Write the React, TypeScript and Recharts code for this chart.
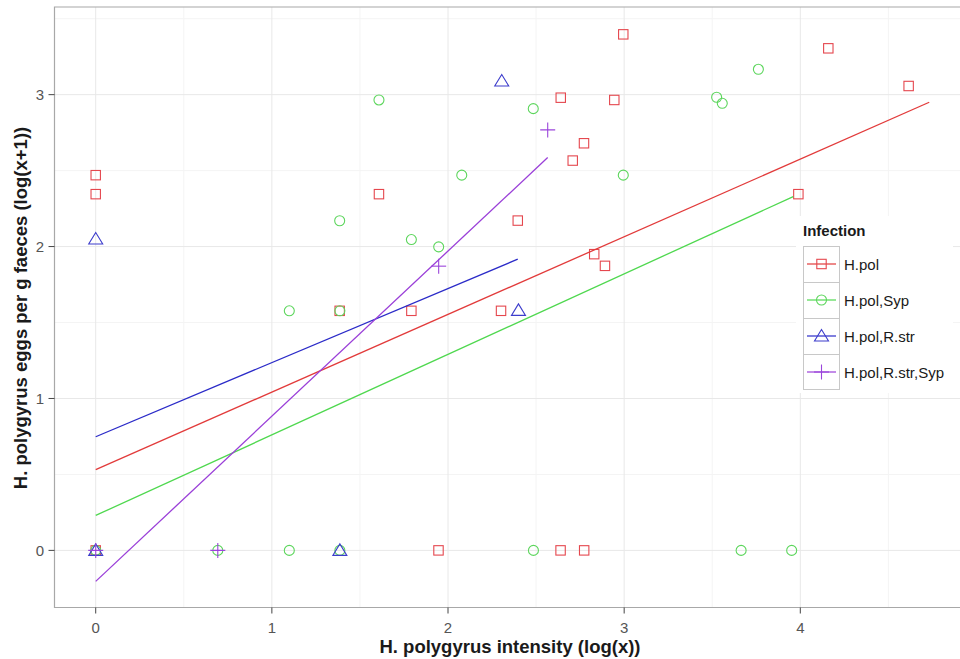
import {
  CartesianGrid,
  Label,
  Legend,
  ReferenceArea,
  Scatter,
  ScatterChart,
  XAxis,
  YAxis,
} from "recharts";

const FONT = "'Liberation Sans', Arial, Helvetica, sans-serif";

// axes
const X_DOMAIN = [-0.234, 4.935];
const Y_DOMAIN = [-0.376, 3.577];
const X_TICKS = [0, 1, 2, 3, 4];
const X_MINOR = [0.5, 1.5, 2.5, 3.5, 4.5];
const Y_TICKS = [0, 1, 2, 3];
const Y_MINOR = [0.5, 1.5, 2.5, 3.5];

// H.pol (squares)
const HPOL_X = [0, 0, 1.608, 1.385, 1.792, 2.995, 2.64, 2.944, 2.772, 2.708, 2.396, 4.159, 4.615, 3.989, 2.83, 2.891, 2.301, 0, 1.946, 2.639, 2.773];
const HPOL_Y = [2.47, 2.345, 2.345, 1.577, 1.577, 3.397, 2.98, 2.965, 2.68, 2.566, 2.171, 3.305, 3.057, 2.345, 1.95, 1.873, 1.577, 0, 0, 0, 0];

// H.pol,Syp (circles)
const HPOL_SYP_X = [1.608, 2.078, 1.385, 1.792, 1.947, 1.099, 1.386, 2.484, 2.995, 3.525, 3.557, 3.762, 0, 0.693, 1.099, 1.386, 2.485, 3.664, 3.951];
const HPOL_SYP_Y = [2.965, 2.47, 2.17, 2.046, 1.998, 1.577, 1.577, 2.908, 2.47, 2.983, 2.943, 3.167, 0, 0, 0, 0, 0, 0, 0];

// H.pol,R.str (triangles)
const HPOL_RSTR_X = [0, 2.305, 2.4, 0, 1.386];
const HPOL_RSTR_Y = [2.05, 3.09, 1.58, 0, 0];

// H.pol,R.str,Syp (plus)
const HPOL_RSTR_SYP_X = [1.947, 2.566, 0, 0.693];
const HPOL_RSTR_SYP_Y = [1.871, 2.768, 0, 0];

// fitted lines (start / end)
const FIT_HPOL_X = [0, 4.732];
const FIT_HPOL_Y = [0.531, 2.95];
const FIT_HPOL_SYP_X = [0, 3.96];
const FIT_HPOL_SYP_Y = [0.23, 2.329];
const FIT_HPOL_RSTR_X = [0, 2.396];
const FIT_HPOL_RSTR_Y = [0.748, 1.917];
const FIT_HPOL_RSTR_SYP_X = [0, 2.566];
const FIT_HPOL_RSTR_SYP_Y = [-0.204, 2.586];

const zip = (xs: number[], ys: number[]) => xs.map((x, i) => ({ x, y: ys[i] }));

type ShapeKind = "square" | "circle" | "triangle" | "plus";

function Marker({ kind, cx, cy, color }: { kind: ShapeKind; cx: number; cy: number; color: string }) {
  const common = { fill: "none", stroke: color, strokeWidth: 1.1 };
  if (kind === "square") return <rect x={cx - 4.7} y={cy - 4.7} width={9.4} height={9.4} {...common} />;
  if (kind === "circle") return <circle cx={cx} cy={cy} r={5} {...common} />;
  if (kind === "triangle")
    return <polygon points={`${cx},${cy - 6.5} ${cx - 7},${cy + 5} ${cx + 7},${cy + 5}`} {...common} />;
  return (
    <g {...common}>
      <line x1={cx - 7.5} x2={cx + 7.5} y1={cy} y2={cy} />
      <line x1={cx} x2={cx} y1={cy - 7.5} y2={cy + 7.5} />
    </g>
  );
}

const GROUPS = [
  { name: "H.pol", kind: "square" as ShapeKind, point: "#E5474E", line: "#E23B3B", data: zip(HPOL_X, HPOL_Y), fit: zip(FIT_HPOL_X, FIT_HPOL_Y) },
  { name: "H.pol,Syp", kind: "circle" as ShapeKind, point: "#5DD65D", line: "#4FD84F", data: zip(HPOL_SYP_X, HPOL_SYP_Y), fit: zip(FIT_HPOL_SYP_X, FIT_HPOL_SYP_Y) },
  { name: "H.pol,R.str", kind: "triangle" as ShapeKind, point: "#3D3DCC", line: "#2B2BC8", data: zip(HPOL_RSTR_X, HPOL_RSTR_Y), fit: zip(FIT_HPOL_RSTR_X, FIT_HPOL_RSTR_Y) },
  { name: "H.pol,R.str,Syp", kind: "plus" as ShapeKind, point: "#9B45DB", line: "#9A3FD8", data: zip(HPOL_RSTR_SYP_X, HPOL_RSTR_SYP_Y), fit: zip(FIT_HPOL_RSTR_SYP_X, FIT_HPOL_RSTR_SYP_Y) },
];

function InfectionLegend() {
  return (
    <div style={{ background: "#fff", width: 157, height: 177, paddingLeft: 7, boxSizing: "border-box", fontFamily: FONT, color: "#1a1a1a" }}>
      <div style={{ fontWeight: "bold", fontSize: 15, height: 30, lineHeight: "30px" }}>Infection</div>
      {GROUPS.map((g, i) => (
        <div key={g.name} style={{ display: "flex", alignItems: "center", height: 36 }}>
          <svg width={37} height={36} style={{ display: "block" }}>
            <line x1={0} x2={37} y1={0.5} y2={0.5} stroke="#c8c8c8" />
            <line x1={0.5} x2={0.5} y1={0} y2={36} stroke="#c8c8c8" />
            <line x1={36.5} x2={36.5} y1={0} y2={36} stroke="#c8c8c8" />
            {i === GROUPS.length - 1 && <line x1={0} x2={37} y1={35.5} y2={35.5} stroke="#c8c8c8" />}
            <line x1={4} x2={33} y1={18} y2={18} stroke={g.line} strokeWidth={1.2} />
            <Marker kind={g.kind} cx={18.5} cy={18} color={g.point} />
          </svg>
          <span style={{ fontSize: 15, marginLeft: 4 }}>{g.name}</span>
        </div>
      ))}
    </div>
  );
}

export default function App() {
  return (
    <div style={{ position: "absolute", left: 0, top: 0, width: 960, height: 659, overflow: "hidden", background: "#fff" }}>
      <ScatterChart
        width={970}
        height={659}
        margin={{ top: 7, right: 5, left: 0, bottom: 0 }}
        style={{ fontFamily: FONT }}
      >
        <CartesianGrid stroke="#f4f4f4" verticalValues={X_MINOR} horizontalValues={Y_MINOR} />
        <CartesianGrid stroke="#e8e8e8" verticalValues={X_TICKS} horizontalValues={Y_TICKS} />
        <XAxis
          type="number"
          dataKey="x"
          domain={X_DOMAIN}
          allowDataOverflow
          ticks={X_TICKS}
          height={51.5}
          axisLine={false}
          tickSize={6}
          tickMargin={9}
          tickLine={{ stroke: "#444" }}
          tick={{ fontSize: 15, fill: "#555" }}
        >
          <Label
            content={() => (
              <text x={510} y={653} textAnchor="middle" fontSize={18.5} fontWeight="bold" fill="#1a1a1a" fontFamily={FONT}>
                H. polygyrus intensity (log(x))
              </text>
            )}
          />
        </XAxis>
        <YAxis
          type="number"
          dataKey="y"
          domain={Y_DOMAIN}
          allowDataOverflow
          ticks={Y_TICKS}
          width={54.5}
          axisLine={false}
          tickSize={6}
          tickMargin={4.5}
          tickLine={{ stroke: "#444" }}
          tick={{ fontSize: 15, fill: "#555" }}
        >
          <Label
            content={() => (
              <text x={27} y={308} transform="rotate(-90 27 308)" textAnchor="middle" fontSize={18.5} fontWeight="bold" fill="#1a1a1a" fontFamily={FONT}>
                H. polygyrus eggs per g faeces (log(x+1))
              </text>
            )}
          />
        </YAxis>
        <ReferenceArea x1={X_DOMAIN[0]} x2={X_DOMAIN[1]} y1={Y_DOMAIN[0]} y2={Y_DOMAIN[1]} fill="none" stroke="#a8a8a8" strokeWidth={1.2} />
        {GROUPS.map((g) => (
          <Scatter
            key={g.name}
            name={g.name}
            data={g.data}
            isAnimationActive={false}
            shape={(p: any) => <Marker kind={g.kind} cx={p.cx} cy={p.cy} color={g.point} />}
          />
        ))}
        {GROUPS.map((g) => (
          <Scatter
            key={g.name + "-fit"}
            data={g.fit}
            isAnimationActive={false}
            legendType="none"
            line={{ stroke: g.line, strokeWidth: 1.3 }}
            shape={() => <g />}
          />
        ))}
        <Legend
          layout="vertical"
          align="center"
          verticalAlign="middle"
          wrapperStyle={{ left: 796, top: 216, width: 157, height: 177 }}
          content={() => <InfectionLegend />}
        />
      </ScatterChart>
    </div>
  );
}
